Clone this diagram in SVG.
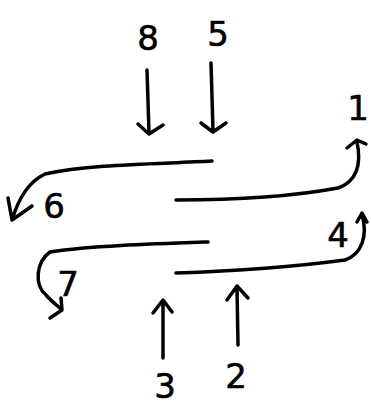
<svg xmlns="http://www.w3.org/2000/svg" width="371" height="405" viewBox="0 0 371 405">
<style>
.s{fill:none;stroke:#000;stroke-width:3.5;stroke-linecap:round;stroke-linejoin:round}
.t{font-family:"DejaVu Sans",sans-serif;font-size:34px;fill:#000;text-anchor:middle;stroke:#000;stroke-width:0.6}
</style>
<rect width="371" height="405" fill="#fff"/>
<g id="labels">
<text class="t" x="148" y="50">8</text>
<text class="t" x="218" y="46">5</text>
<text class="t" x="358" y="120" font-size="30">1</text>
<text class="t" x="54" y="218" font-size="30">6</text>
<text class="t" x="68" y="296" font-size="30">7</text>
<text class="t" x="338" y="247" font-size="30">4</text>
<text class="t" x="165" y="398">3</text>
<text class="t" x="236" y="388">2</text>
</g>
<g id="connectors">
<path class="s" d="M147 70 L149 133 M138 124 L149 134 L163 125"/>
<path class="s" d="M211 63 L213 131 M201 123 L213 132 L226 123"/>
<path class="s" d="M212 161 C160 164 90 164 45 174 C28 182 18 200 12 220 M8 198 L12 220 L32 206"/>
<path class="s" d="M176 200 C240 200 300 195 338 188 C356 182 362 165 357 142 M347 148 L357 140 L366 144"/>
<path class="s" d="M208 242 C150 244 90 246 50 252 C36 262 34 285 46 295 C52 302 58 306 62 310 M50 318 L62 310 L61 298"/>
<path class="s" d="M176 273 C240 271 300 266 345 260 C362 254 368 236 362 214 M357 222 L362 213 L367 222"/>
<path class="s" d="M163 358 L163 302 M153 313 L163 300 L172 312"/>
<path class="s" d="M238 345 L237 288 M227 300 L237 286 L248 298"/>
</g>
</svg>
